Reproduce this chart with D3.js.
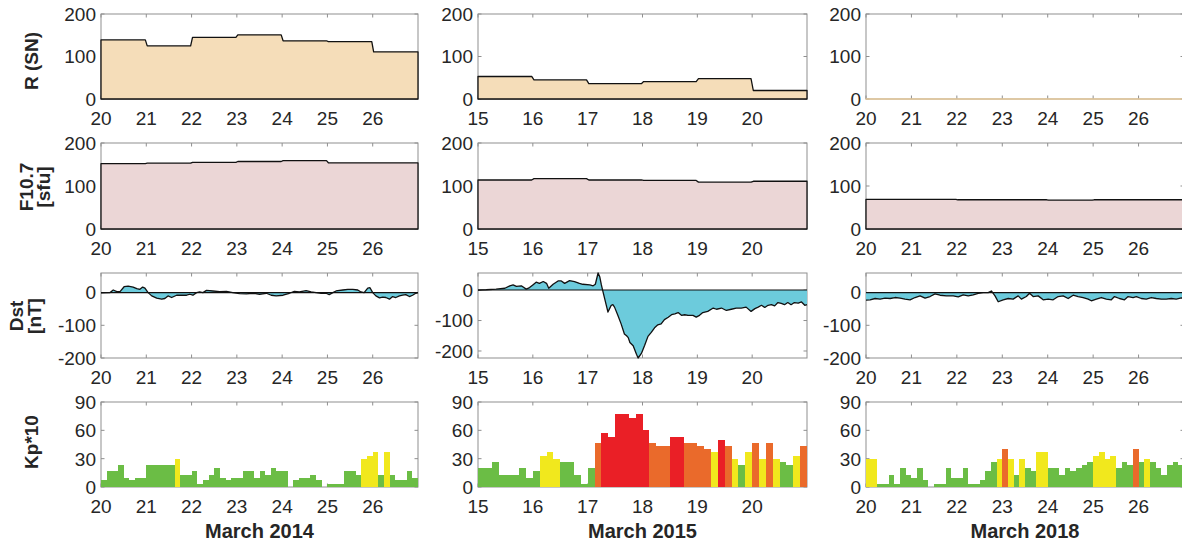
<!DOCTYPE html>
<html>
<head>
<meta charset="utf-8">
<script src="https://cdn.jsdelivr.net/npm/d3@7"></script>
<style>
  body { margin: 0; background: #fff; }
  svg { display: block; font-family: "Liberation Sans", Arial, Helvetica, sans-serif; }
</style>
</head>
<body>
<svg id="chart" width="1182" height="544"></svg>
<script>
// ---- Daily solar indices ----
const days2014 = [20, 21, 22, 23, 24, 25, 26];
const days2015 = [15, 16, 17, 18, 19, 20];
const days2018 = [20, 21, 22, 23, 24, 25, 26];

const sn2014 = [139, 125, 145, 151, 137, 135, 111];
const sn2015 = [53, 45, 36, 41, 48, 20];
const sn2018 = [0, 0, 0, 0, 0, 0, 0];

const f107_2014 = [152, 153, 155, 157, 159, 154, 154];
const f107_2015 = [114, 117, 114, 113, 109, 111];
const f107_2018 = [69, 69, 68, 68, 67, 68, 68];

// ---- Dst index (day of month, nT) ----
const dst2014T = [20.00,20.20,20.27,20.35,20.42,20.51,20.60,20.71,20.79,20.86,20.92,20.97,21.04,21.12,21.23,21.34,21.41,21.48,21.56,21.67,21.78,21.89,21.96,22.03,22.11,22.18,22.25,22.33,22.47,22.62,22.77,22.91,23.06,23.21,23.36,23.50,23.65,23.76,23.87,24.02,24.16,24.27,24.38,24.53,24.64,24.75,24.86,24.97,25.04,25.12,25.19,25.34,25.45,25.56,25.67,25.74,25.81,25.89,25.94,26.00,26.07,26.15,26.22,26.29,26.37,26.44,26.51,26.59,26.66,26.73,26.81,26.88,26.95,27.00];
const dst2014V = [-1,0,8,3,3,18,20,17,12,10,17,14,0,-10,-17,-20,-18,-10,-15,-8,-8,-8,-5,-8,0,2,0,7,5,3,4,0,-3,-4,-2,-5,-2,-8,-10,-8,-2,4,2,6,2,0,-2,-2,-6,0,5,8,10,10,8,2,0,14,15,0,-10,-16,-14,-15,-20,-12,-15,-10,-8,-6,-12,-8,-2,0];

const dst2015T = [15.00,15.15,15.33,15.49,15.58,15.64,15.70,15.79,15.88,15.94,16.00,16.06,16.12,16.19,16.25,16.29,16.37,16.46,16.52,16.58,16.67,16.76,16.85,16.91,17.04,17.10,17.14,17.19,17.22,17.25,17.28,17.31,17.34,17.37,17.40,17.43,17.46,17.49,17.55,17.61,17.67,17.71,17.74,17.77,17.83,17.89,17.92,17.98,18.04,18.10,18.16,18.22,18.28,18.34,18.40,18.47,18.53,18.59,18.65,18.71,18.77,18.83,18.92,18.98,19.04,19.10,19.19,19.29,19.35,19.44,19.53,19.62,19.71,19.80,19.89,19.98,20.05,20.11,20.17,20.23,20.29,20.35,20.41,20.47,20.53,20.59,20.65,20.71,20.77,20.84,20.90,20.96,21.00];
const dst2015V = [0,1,3,6,14,17,12,14,3,8,17,26,22,28,22,6,19,30,30,22,31,28,22,19,17,14,19,56,44,17,-6,-28,-50,-72,-61,-50,-48,-56,-83,-111,-144,-150,-156,-172,-183,-211,-223,-208,-181,-152,-139,-124,-114,-111,-97,-89,-81,-78,-74,-83,-81,-83,-83,-89,-83,-74,-70,-59,-63,-59,-67,-63,-59,-59,-56,-70,-61,-56,-50,-57,-50,-48,-52,-41,-44,-48,-41,-48,-41,-43,-39,-50,-48];

const dst2018T = [20.00,20.09,20.20,20.31,20.42,20.53,20.64,20.75,20.86,20.97,21.08,21.19,21.30,21.41,21.52,21.63,21.77,21.92,22.03,22.14,22.25,22.36,22.47,22.58,22.69,22.76,22.84,22.91,23.02,23.13,23.24,23.35,23.42,23.53,23.60,23.68,23.79,23.90,24.01,24.12,24.23,24.34,24.45,24.56,24.67,24.78,24.89,24.96,25.07,25.18,25.29,25.40,25.47,25.58,25.69,25.77,25.88,25.95,26.06,26.17,26.28,26.39,26.50,26.61,26.72,26.83,26.94,27.00];
const dst2018V = [-23,-22,-18,-20,-17,-18,-15,-17,-20,-22,-15,-10,-17,-12,-4,-8,-10,-10,-13,-7,-10,-7,-2,0,0,5,-10,-28,-22,-18,-20,-10,-20,-12,-2,-12,-10,-22,-20,-22,-12,-10,-18,-8,-12,-15,-20,-25,-20,-15,-20,-22,-12,-18,-22,-12,-15,-12,-18,-20,-15,-18,-20,-20,-18,-20,-16,-18];

// ---- 3-hourly Kp (x10) ----
const kp2014 = [7,17,17,23,10,7,10,10, 23,23,23,23,23,30,13,13, 17,3,7,13,20,10,7,10, 10,17,17,10,17,13,20,17, 17,0,7,10,10,13,7,0, 3,3,3,17,17,13,30,33, 37,13,37,13,7,7,17,10];
const kp2015 = [20,20,27,13,13,13,20,10, 17,33,37,30,27,27,13,3, 20,47,57,53,77,77,73,77, 60,47,43,43,53,53,47,47, 43,40,37,50,43,30,23,37, 47,30,47,30,27,23,33,43];
const kp2018 = [30,30,3,3,13,3,20,13, 10,20,7,0,3,3,20,10, 10,20,3,3,7,17,27,30, 40,30,13,30,20,17,37,37, 20,20,13,20,17,20,23,27, 33,37,30,33,20,27,23,40, 27,30,27,20,13,23,27,23];

// ---- Tick values ----
const snTicks = [0, 100, 200];
const dstTicks = [-200, -100, 0];
const kpTicks = [0, 30, 60, 90];

// ---- Layout ----
const svg = d3.select("#chart");
const axisColor = "#8f8f8f";
const textColor = "#262626";
const tickFont = 19;

const columns = [
  { days: days2014, left: 101, right: 418, title: "March 2014", sn: sn2014, f107: f107_2014,
    dstT: dst2014T, dstV: dst2014V, dstDomain: [-200, 60], kp: kp2014 },
  { days: days2015, left: 478, right: 807, title: "March 2015", sn: sn2015, f107: f107_2015,
    dstT: dst2015T, dstV: dst2015V, dstDomain: [-223, 56], kp: kp2015 },
  { days: days2018, left: 866, right: 1184, title: "March 2018", sn: sn2018, f107: f107_2018,
    dstT: dst2018T, dstV: dst2018V, dstDomain: [-200, 60], kp: kp2018 }
];

const rows = {
  sn:   { top: 14,  bottom: 99 },
  f107: { top: 143, bottom: 229 },
  dst:  { top: 273, bottom: 358 },
  kp:   { top: 402, bottom: 487 }
};

const colors = {
  sn: "#f5ddb9",
  snEdgeEmpty: "#e6c999",
  f107: "#ebd6d6",
  dst: "#6ccbdc",
  kpGreen: "#6bbd45",
  kpYellow: "#f1e81d",
  kpOrange: "#ea6a2b",
  kpRed: "#ea1f26"
};

function kpColor(v) {
  if (v >= 50) return colors.kpRed;
  if (v >= 40) return colors.kpOrange;
  if (v >= 30) return colors.kpYellow;
  return colors.kpGreen;
}

// Box, inward ticks and tick labels of one panel
function drawFrame(x, y, xTicks, yTicks, yFmt) {
  const [x0, x1] = x.range();
  const [yb, yt] = y.range();
  const g = svg.append("g");
  g.append("rect")
    .attr("x", x0).attr("y", yt).attr("width", x1 - x0).attr("height", yb - yt)
    .attr("fill", "none").attr("stroke", axisColor).attr("stroke-width", 1);
  const tl = 3.5;
  xTicks.forEach(t => {
    const px = x(t);
    g.append("line").attr("x1", px).attr("x2", px).attr("y1", yb).attr("y2", yb - tl)
      .attr("stroke", axisColor);
    g.append("line").attr("x1", px).attr("x2", px).attr("y1", yt).attr("y2", yt + tl)
      .attr("stroke", axisColor);
    g.append("text").attr("x", px).attr("y", yb + 26)
      .attr("text-anchor", "middle").attr("font-size", tickFont).attr("fill", textColor)
      .text(t);
  });
  yTicks.forEach(t => {
    const py = y(t);
    g.append("line").attr("x1", x0).attr("x2", x0 + tl).attr("y1", py).attr("y2", py)
      .attr("stroke", axisColor);
    g.append("line").attr("x1", x1).attr("x2", x1 - tl).attr("y1", py).attr("y2", py)
      .attr("stroke", axisColor);
    g.append("text").attr("x", x0 - 5).attr("y", py).attr("dy", "0.36em")
      .attr("text-anchor", "end").attr("font-size", tickFont).attr("fill", textColor)
      .text(yFmt ? yFmt(t) : t);
  });
}

// Daily value held across each day, with a short one-hour ramp between days
function stepPoints(days, values, end) {
  const pts = [];
  const h = 1 / 48;
  days.forEach((d, i) => {
    pts.push([i === 0 ? d : d + h, values[i]]);
    pts.push([i === days.length - 1 ? end : d + 1 - h, values[i]]);
  });
  return pts;
}

function drawDailyArea(x, y, days, values, end, fill, edge) {
  const pts = stepPoints(days, values, end);
  const poly = [[pts[0][0], 0], ...pts, [pts[pts.length - 1][0], 0]];
  const line = d3.line().x(d => x(d[0])).y(d => y(d[1]));
  svg.append("path")
    .attr("d", line(poly) + "Z")
    .attr("fill", fill)
    .attr("stroke", edge)
    .attr("stroke-width", 1.3)
    .attr("stroke-linejoin", "round");
}

const minus = v => (v < 0 ? "-" + Math.abs(v) : String(v));

columns.forEach(col => {
  const start = col.days[0];
  const end = col.days[col.days.length - 1] + 1;
  const x = d3.scaleLinear().domain([start, end]).range([col.left, col.right]);

  // Sunspot number
  const ySn = d3.scaleLinear().domain([0, 200]).range([rows.sn.bottom, rows.sn.top]);
  drawFrame(x, ySn, col.days, snTicks);
  drawDailyArea(x, ySn, col.days, col.sn, end, colors.sn,
    d3.max(col.sn) > 0 ? "#111" : colors.snEdgeEmpty);

  // F10.7 flux
  const yF = d3.scaleLinear().domain([0, 200]).range([rows.f107.bottom, rows.f107.top]);
  drawFrame(x, yF, col.days, snTicks);
  drawDailyArea(x, yF, col.days, col.f107, end, colors.f107, "#111");

  // Dst
  const yD = d3.scaleLinear().domain(col.dstDomain).range([rows.dst.bottom, rows.dst.top]);
  drawFrame(x, yD, col.days, dstTicks, minus);
  const dstData = col.dstT.map((t, i) => [t, col.dstV[i]]);
  svg.append("path")
    .attr("d", d3.area().x(d => x(d[0])).y0(yD(0)).y1(d => yD(d[1]))(dstData))
    .attr("fill", colors.dst);
  svg.append("line")
    .attr("x1", x(start)).attr("x2", x(end)).attr("y1", yD(0)).attr("y2", yD(0))
    .attr("stroke", "#111").attr("stroke-width", 1.1);
  svg.append("path")
    .attr("d", d3.line().x(d => x(d[0])).y(d => yD(d[1]))(dstData))
    .attr("fill", "none").attr("stroke", "#111").attr("stroke-width", 1.3)
    .attr("stroke-linejoin", "round");

  // Kp bars (3-hour intervals)
  const yK = d3.scaleLinear().domain([0, 90]).range([rows.kp.bottom, rows.kp.top]);
  drawFrame(x, yK, col.days, kpTicks);
  svg.append("g").attr("shape-rendering", "crispEdges").selectAll("rect")
    .data(col.kp)
    .join("rect")
    .attr("x", (d, i) => Math.round(x(start + i / 8)))
    .attr("width", (d, i) => Math.round(x(start + (i + 1) / 8)) - Math.round(x(start + i / 8)))
    .attr("y", d => yK(d))
    .attr("height", d => yK(0) - yK(d))
    .attr("fill", d => kpColor(d));

  // Month label
  svg.append("text")
    .attr("x", (col.left + col.right) / 2).attr("y", 538)
    .attr("text-anchor", "middle").attr("font-size", 20).attr("font-weight", "bold")
    .attr("fill", textColor)
    .text(col.title);
});

// Row titles
const rowLabels = [
  { lines: ["R (SN)"], cy: 61, base: [38] },
  { lines: ["F10.7", "[sfu]"], cy: 187, base: [33, 50] },
  { lines: ["Dst", "[nT]"], cy: 316, base: [23, 41] },
  { lines: ["Kp*10"], cy: 442, base: [38] }
];
rowLabels.forEach(r => {
  r.lines.forEach((txt, i) => {
    svg.append("text")
      .attr("transform", `translate(${r.base[i]},${r.cy}) rotate(-90)`)
      .attr("text-anchor", "middle").attr("font-size", 19).attr("font-weight", "bold")
      .attr("fill", textColor)
      .text(txt);
  });
});
</script>
</body>
</html>
